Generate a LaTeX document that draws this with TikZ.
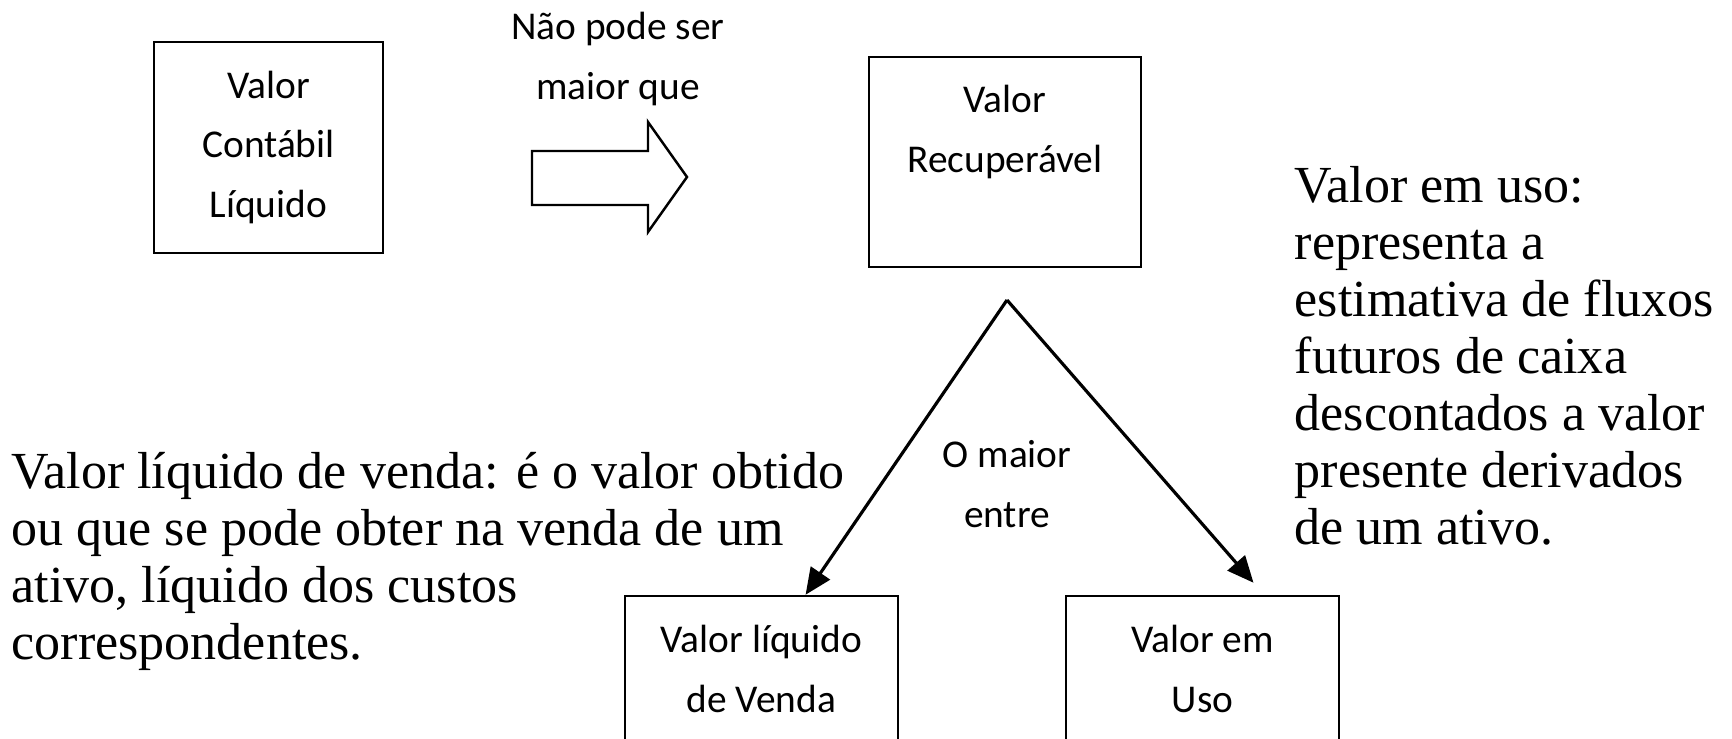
\documentclass[tikz,border=0pt]{standalone}
\usepackage{fontspec}
\setmainfont{Liberation Serif}
\newfontfamily\calibri{Carlito}
\usetikzlibrary{calc,arrows.meta}

\tikzset{
    caixa/.style={draw, rectangle, line width=0.7pt, inner sep=0pt},
    rotulo/.style={font=\calibri\fontsize{11.2}{16.9}\selectfont, align=center, inner sep=0pt, anchor=base},
    nota/.style={font=\fontsize{14.8}{16.2}\selectfont, align=left, inner sep=0pt, anchor=base west},
    seta/.style={-{Triangle[length=7.5pt,width=6.5pt]}, line width=0.9pt}
}

\begin{document}
\begin{tikzpicture}[x=0.01cm, y=-0.01cm]
    \clip (0,0) rectangle (1732,738);

    \node[caixa, minimum width=2.29cm, minimum height=2.11cm] (vcl) at (268.5,147.5) {};
    \node[caixa, minimum width=2.72cm, minimum height=2.10cm] (vr) at (1005,162) {};
    \node[caixa, minimum width=2.73cm, minimum height=1.64cm] (vlv) at (761.5,678) {};
    \node[caixa, minimum width=2.73cm, minimum height=1.64cm] (vu) at (1202.5,678) {};

    \node[rotulo] (vcltxt) at (268.5,217) {Valor\\Contábil\\Líquido};
    \node[rotulo] (vrtxt) at (1005,172) {Valor\\Recuperável};
    \node[rotulo] (vlvtxt) at (761.5,712) {Valor líquido\\de Venda};
    \node[rotulo] (vutxt) at (1202.5,712) {Valor em\\Uso};
    \node[rotulo] (naopode) at (618,99) {Não pode ser\\maior que};
    \node[rotulo] (omaior) at (1007,527) {O maior\\entre};

    \draw[line width=0.7pt] (532,151) -- (648,151) -- (648,122) -- (687,177) -- (648,232) -- (648,205) -- (532,205) -- cycle;

    \coordinate (topo) at (1007,300);
    \draw[seta] (topo) -- ($(vlv.north west)!0.66!(vlv.north east)$);
    \draw[seta] (topo) -- ($(vu.north west)!0.685!(vu.north east)+(0,-12)$);

    \node[nota] (notavenda) at (11,659) {Valor líquido de venda: é o valor obtido\\ou que se pode obter na venda de um\\ativo, líquido dos custos\\correspondentes.};
    \node[nota] (notauso) at (1294,544) {Valor em uso:\\representa a\\estimativa de fluxos\\futuros de caixa\\descontados a valor\\presente derivados\\de um ativo.};
\end{tikzpicture}
\end{document}
